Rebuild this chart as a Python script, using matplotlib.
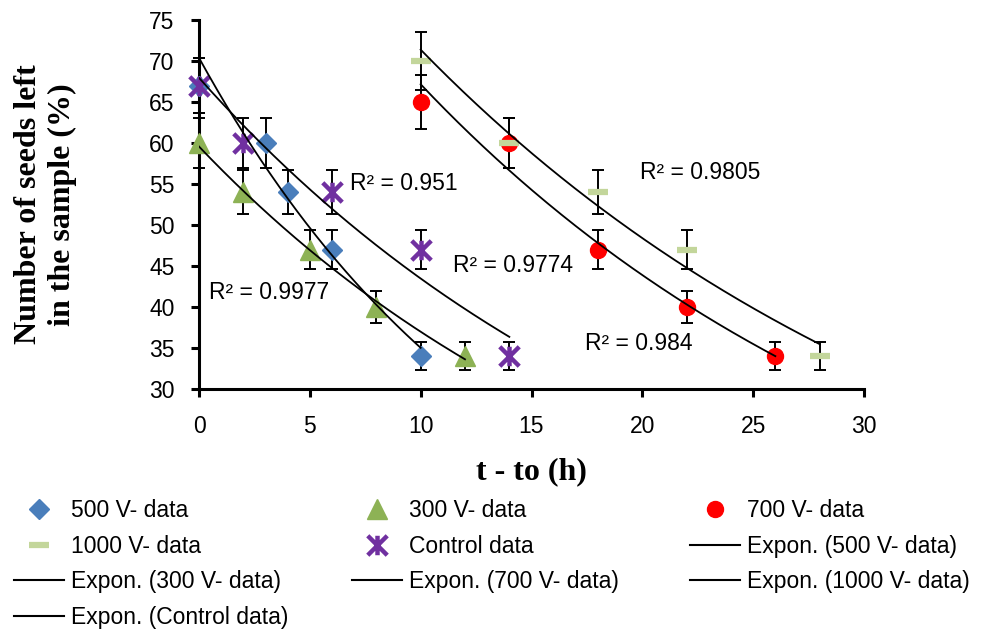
import numpy as np
import matplotlib
matplotlib.use('Agg')
import matplotlib.pyplot as plt
from matplotlib.path import Path

plt.rcParams['font.family'] = ['Liberation Sans', 'DejaVu Sans']

# treatment time (h) and seeds left (%) for each voltage
t_500 = [0, 3, 4, 6, 10]
seeds_500 = [67, 60, 54, 47, 34]
t_300 = [0, 2, 5, 8, 12]
seeds_300 = [60, 54, 47, 40, 34]
t_700 = [10, 14, 18, 22, 26]
seeds_700 = [65, 60, 47, 40, 34]
t_1000 = [10, 14, 18, 22, 28]
seeds_1000 = [70, 60, 54, 47, 34]
t_ctrl = [0, 2, 6, 10, 14]
seeds_ctrl = [67, 60, 54, 47, 34]

err_pct = 5  # error bars: percentage of value

labels = ['500 V- data', '300 V- data', '700 V- data', '1000 V- data', 'Control data']
r2_texts = ['R² = 0.951', 'R² = 0.9774', 'R² = 0.9977', 'R² = 0.9805', 'R² = 0.984']

# asterisk-like marker: X with a vertical bar
star = Path([(-1, -1), (1, 1), (-1, 1), (1, -1), (0, -1), (0, 1)],
            [Path.MOVETO, Path.LINETO] * 3)

styles = [
    dict(marker='D', color='#4A7EBB', ms=10.5),
    dict(marker='^', color='#8DB255', ms=14),
    dict(marker='o', color='#FF0000', ms=11.5),
    dict(marker='_', color='#C3D69B', ms=14, mew=4.5),
    dict(marker=star, color='#7030A0', ms=14, mew=3.2, mfc='none'),
]

series = [(t_500, seeds_500), (t_300, seeds_300), (t_700, seeds_700),
          (t_1000, seeds_1000), (t_ctrl, seeds_ctrl)]

fig = plt.figure(figsize=(9.83, 6.31), dpi=100)
ax = fig.add_axes([199 / 983, 1 - 389 / 631, 665 / 983, 369 / 631])

handles = []
fits = []
for (t, s), st, lab in zip(series, styles, labels):
    t = np.array(t, dtype=float)
    s = np.array(s, dtype=float)
    ax.errorbar(t, s, yerr=s * err_pct / 100, fmt='none', ecolor='black',
                elinewidth=1.4, capsize=4.5, capthick=1.4, clip_on=False, zorder=2)
    kw = dict(st)
    color = kw.pop('color')
    kw.setdefault('mfc', color)
    h, = ax.plot(t, s, linestyle='none', mec=color, label=lab, zorder=3,
                 clip_on=False, **kw)
    handles.append(h)
    # exponential trendline y = a*exp(b*t)
    b, ln_a = np.polyfit(t, np.log(s), 1)
    tt = np.linspace(t.min(), t.max(), 200)
    f, = ax.plot(tt, np.exp(ln_a) * np.exp(b * tt), color='black', lw=1.3,
                 zorder=4, label='Expon. (%s)' % lab)
    fits.append(f)

# R² labels
ax.text(6.8, 55.1, r2_texts[0], fontsize=16.5, va='center')
ax.text(11.45, 45.1, r2_texts[1], fontsize=16.5, va='center')
ax.text(0.45, 41.8, r2_texts[2], fontsize=16.5, va='center')
ax.text(19.9, 56.4, r2_texts[3], fontsize=16.5, va='center')
ax.text(17.4, 35.5, r2_texts[4], fontsize=16.5, va='center')

ax.set_xlim(0, 30)
ax.set_ylim(30, 75)
ax.set_xticks(np.arange(0, 31, 5))
ax.set_yticks(np.arange(30, 76, 5))
for side in ['top', 'right']:
    ax.spines[side].set_visible(False)
for side in ['left', 'bottom']:
    ax.spines[side].set_linewidth(2.2)
ax.tick_params(axis='both', direction='out', length=5.5, width=2.2, labelsize=16.5)
ax.tick_params(axis='y', pad=12)
ax.tick_params(axis='x', pad=13)

ax.set_xlabel('t - to (h)', family='Liberation Serif', weight='bold', fontsize=23,
              labelpad=14)
ax.set_ylabel('Number of seeds left\nin the sample (%)', family='Liberation Serif',
              weight='bold', fontsize=23, labelpad=52, linespacing=1.2)

# legend laid out row by row in three columns
columns = [
    [handles[0], handles[3], fits[1], fits[4]],
    [handles[1], handles[4], fits[2]],
    [handles[2], fits[0], fits[3]],
]
col_x = [14, 352, 690]
for hs, x0 in zip(columns, col_x):
    leg = fig.legend(handles=hs, labels=[h.get_label() for h in hs], loc='upper left',
                     bbox_to_anchor=(x0 / 983, 1 - 499 / 631), frameon=False,
                     fontsize=16.5, borderpad=0, borderaxespad=0, handlelength=2.2,
                     handletextpad=0.3, labelspacing=0.55, numpoints=1)
    for ln in leg.get_lines():
        if ln.get_linestyle() == '-':
            ln.set_linewidth(1.5)

fig.savefig('out.png', dpi=100)
